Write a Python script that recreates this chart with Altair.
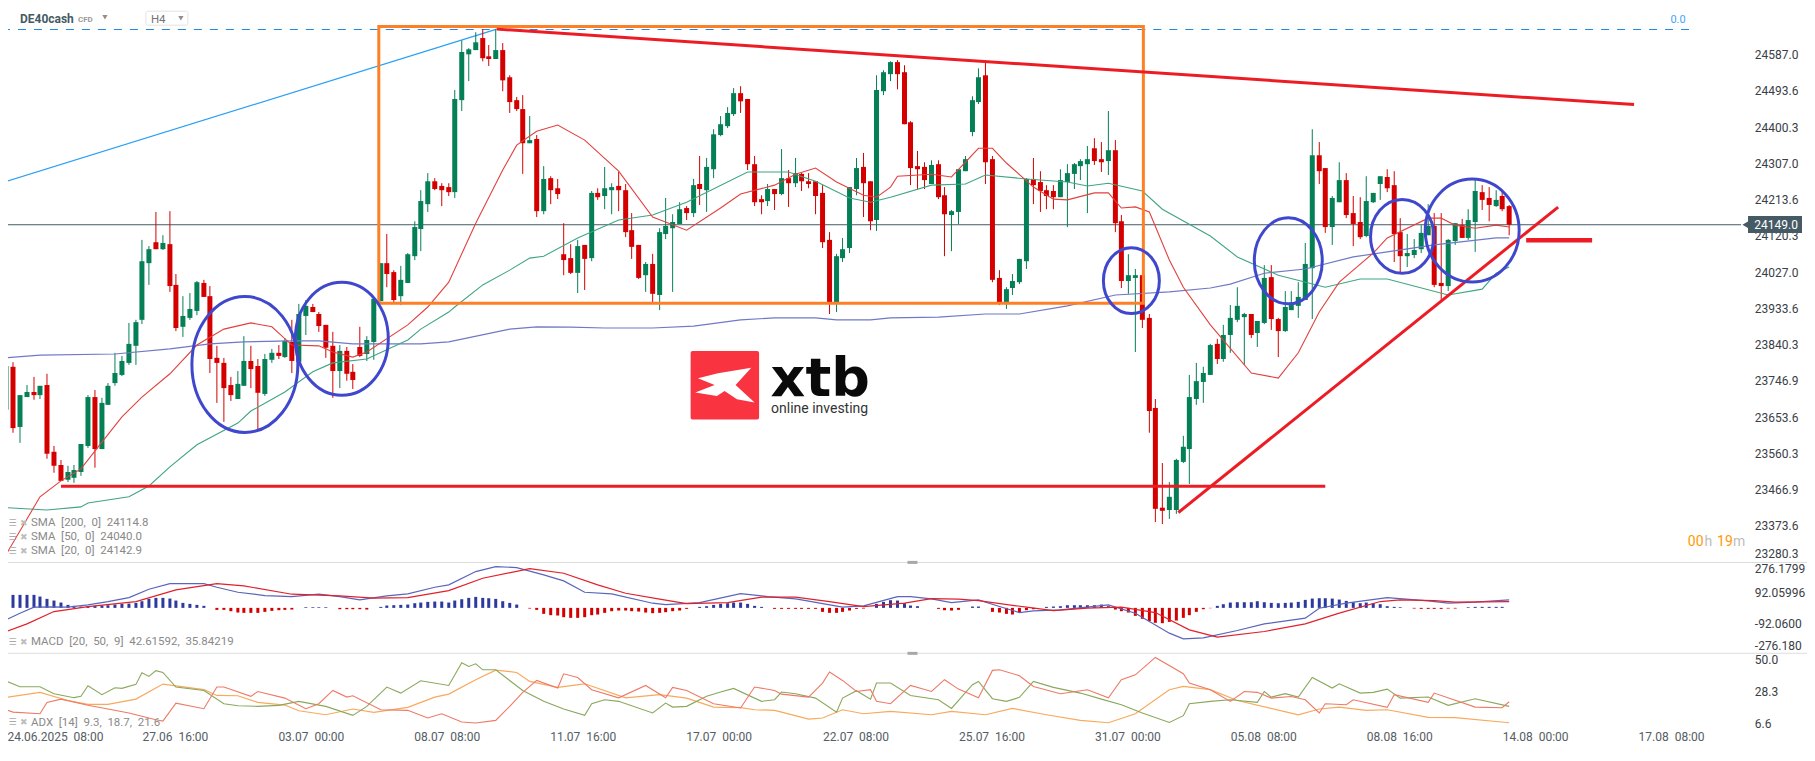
import json
import altair as alt
import pandas as pd

# ---------- candles (H4, one value per bar) ----------
opens = [23672,23783,23628,23705,23718,23710,23736,23564,23530,23492,
 23497,23512,23579,23705,23571,23685,23741,23762,23793,23837,
 23904,24050,24104,24086,24099,23994,23886,23909,23927,23999,
 23965,23806,23793,23736,23700,23734,23798,23785,23713,23801,
 23819,23808,23847,23796,23914,23937,23919,23891,23837,23772,
 23824,23770,23834,23816,23847,23952,24050,24027,23965,23999,
 24068,24138,24202,24261,24249,24246,24233,24470,24588,24599,
 24630,24583,24576,24599,24529,24470,24447,24359,24370,24184,
 24269,24243,24073,24063,24025,24097,24063,24231,24223,24238,
 24249,24238,24135,24097,24019,24048,23968,24125,24140,24151,
 24192,24179,24254,24238,24292,24380,24403,24434,24488,24473,
 24305,24215,24210,24241,24228,24269,24256,24280,24261,24261,
 24231,24110,23947,24063,24089,24241,24298,24261,24161,24493,
 24537,24568,24542,24413,24300,24298,24254,24305,24225,24174,
 24182,24287,24388,24465,24534,24318,24012,23947,23986,24001,
 24055,24267,24259,24238,24236,24220,24259,24280,24300,24305,
 24346,24318,24313,24341,24158,24004,24012,24019,23909,23677,
 23420,23414,23414,23538,23571,23700,23744,23762,23842,23803,
 23865,23904,23911,23919,23870,23896,24014,23906,23875,23929,
 23940,23955,24037,24328,24295,24143,24207,24264,24179,24156,
 24120,24207,24254,24272,24251,24130,24068,24071,24086,24122,
 24146,23999,23991,24107,24148,24115,24156,24233,24218,24197,
 24223,24197]
closes = [23785,23625,23710,23718,23710,23734,23559,23528,23489,23512,
 23517,23584,23705,23571,23690,23734,23767,23798,23842,23898,
 24055,24086,24086,24102,23991,23883,23914,23932,24001,23963,
 23803,23793,23728,23710,23739,23798,23777,23716,23803,23819,
 23811,23850,23798,23919,23940,23924,23888,23832,23772,23824,
 23765,23749,23811,23852,23958,24050,24022,23955,24007,24073,
 24143,24210,24261,24241,24238,24233,24473,24594,24601,24619,
 24578,24576,24599,24521,24465,24447,24359,24367,24184,24267,
 24238,24228,24058,24025,24094,24061,24231,24220,24243,24246,
 24238,24130,24092,24012,24048,23971,24130,24146,24156,24189,
 24179,24251,24241,24298,24382,24408,24437,24488,24467,24305,
 24207,24207,24241,24228,24269,24256,24282,24261,24254,24223,
 24104,23947,24068,24086,24246,24295,24256,24158,24496,24542,
 24568,24537,24408,24295,24292,24264,24303,24220,24176,24184,
 24292,24318,24470,24529,24310,24007,23947,23983,24004,24061,
 24267,24251,24236,24223,24220,24264,24282,24305,24313,24318,
 24313,24310,24341,24153,24004,24019,24019,23904,23669,23417,
 23412,23448,23543,23577,23705,23746,23767,23839,23803,23865,
 23909,23940,23919,23865,23901,24012,23906,23875,23937,23942,
 23963,24048,24328,24287,24143,24218,24264,24174,24151,24117,
 24210,24231,24274,24243,24125,24068,24076,24084,24128,24146,
 23994,23991,24110,24153,24115,24161,24236,24213,24200,24213,
 24189,24149]
highs = [23826,23795,23710,23736,23757,23734,23765,23579,23543,23528,
 23530,23584,23710,23723,23703,23741,23819,23811,23896,23904,
 24110,24094,24182,24122,24184,24022,23965,23973,24004,24007,
 23991,23837,23806,23757,23772,23862,23837,23803,23816,23829,
 23839,23857,23904,23945,23955,23945,23924,23891,23873,23839,
 23834,23790,23886,23862,23958,24050,24125,24032,24043,24076,
 24158,24238,24282,24269,24256,24256,24496,24624,24604,24645,
 24653,24612,24653,24617,24534,24478,24483,24429,24380,24300,
 24274,24267,24153,24099,24110,24097,24236,24243,24298,24256,
 24285,24254,24179,24097,24053,24074,24140,24218,24176,24207,
 24197,24267,24326,24321,24395,24429,24452,24501,24506,24473,
 24326,24225,24254,24241,24344,24290,24321,24282,24282,24261,
 24251,24130,24074,24115,24246,24321,24334,24261,24534,24547,
 24570,24573,24560,24416,24339,24310,24315,24315,24246,24187,
 24292,24326,24480,24552,24568,24326,24032,23988,24022,24061,
 24269,24321,24287,24251,24251,24292,24305,24308,24318,24352,
 24372,24362,24442,24367,24174,24073,24035,24019,23919,23700,
 23535,23486,23546,23605,23762,23793,23783,23842,23855,23891,
 23942,23988,23922,23919,23901,24045,24045,23909,23978,23978,
 24001,24102,24395,24362,24295,24223,24310,24282,24223,24220,
 24274,24231,24274,24292,24287,24166,24125,24112,24148,24202,
 24179,24179,24112,24153,24164,24189,24264,24251,24246,24238,
 24238,24200]
lows = [23607,23613,23587,23705,23698,23700,23546,23510,23489,23486,
 23484,23502,23574,23523,23571,23685,23734,23759,23788,23788,
 23893,23994,24086,24084,23976,23875,23860,23904,23916,23963,
 23767,23690,23641,23695,23700,23734,23728,23620,23708,23793,
 23803,23806,23767,23796,23865,23924,23873,23806,23703,23728,
 23747,23726,23808,23798,23801,23952,23988,23950,23942,23999,
 24058,24081,24182,24238,24197,24223,24218,24442,24519,24599,
 24570,24558,24576,24493,24437,24442,24280,24359,24169,24176,
 24202,24215,24019,24022,23973,23981,24055,24213,24189,24176,
 24184,24117,24061,24009,23976,23950,23929,24112,23976,24151,
 24161,24169,24200,24182,24269,24377,24398,24429,24437,24290,
 24197,24176,24197,24187,24225,24195,24246,24236,24243,24176,
 24089,23919,23924,24053,24076,24225,24169,24135,24133,24483,
 24519,24498,24408,24251,24241,24241,24254,24215,24068,24081,
 24151,24287,24377,24460,24254,24001,23942,23932,23968,23996,
 24035,24202,24182,24189,24189,24220,24143,24241,24264,24179,
 24303,24285,24277,24130,23986,23971,23821,23883,23613,23383,
 23378,23391,23404,23535,23481,23685,23690,23762,23790,23796,
 23819,23898,23788,23857,23834,23893,23878,23808,23873,23929,
 23909,23955,23906,24254,24128,24097,24207,24166,24094,24112,
 24117,24205,24213,24233,24053,24027,24040,24063,24076,24122,
 23988,23955,23978,24097,24115,24110,24079,24187,24158,24195,
 24184,24122]

# ---------- moving averages: read at selected bars ----------
sma200_i = [0,5,16,24,30,35,42,46,51,56,61,65,74,78,83,88,95,101,108,113,119,122,127,130,137,144,149,156,163,171,177,180,185,191,198,203,210,219,221]
sma200_v = [23806,23813,23816,23829,23842,23847,23850,23850,23842,23842,23842,23847,23880,23886,23885,23883,23883,23888,23904,23909,23909,23904,23904,23909,23911,23919,23919,23940,23968,23976,23986,23996,24024,24035,24066,24079,24097,24115,24115]
sma50_i = [0,6,11,12,18,21,24,28,34,36,41,45,48,53,59,61,65,66,70,74,77,79,84,90,95,100,109,115,119,124,127,130,136,141,144,150,156,159,162,167,170,177,181,187,194,199,203,212,217,219,221]
sma50_v = [23420,23414,23422,23432,23448,23476,23525,23582,23638,23669,23718,23770,23793,23803,23852,23880,23924,23937,23994,24032,24063,24068,24115,24161,24174,24207,24285,24285,24261,24218,24207,24220,24251,24254,24277,24267,24259,24249,24256,24236,24189,24120,24066,24019,23988,24009,24009,23968,23983,24024,24040]
sma20_i = [0,5,8,11,14,17,20,24,28,32,36,39,42,46,48,51,53,59,62,65,69,73,75,78,81,85,90,95,100,105,108,113,116,119,122,126,128,130,131,136,139,143,145,147,151,154,156,160,162,164,166,168,171,173,177,183,187,190,193,196,198,201,203,209,211,213,216,219,221]
sma20_v = [23299,23448,23489,23520,23589,23654,23705,23765,23839,23880,23896,23886,23839,23837,23821,23808,23821,23891,23937,24001,24153,24290,24354,24390,24406,24367,24287,24169,24135,24192,24228,24251,24279,24295,24259,24225,24220,24246,24274,24279,24272,24346,24346,24308,24246,24215,24213,24231,24231,24192,24195,24182,24058,23988,23891,23767,23754,23819,23924,24001,24032,24076,24115,24166,24166,24148,24140,24148,24143]

# ---------- MACD ----------
macd_hist = [78,78,78,78,78,68,54,44,32,18,12,8,10,12,14,16,20,24,26,30,40,54,60,60,56,44,30,24,18,12,0,
 -12,-12,-20,-28,-30,-30,-30,-24,-18,-14,-12,-10,0,4,4,4,4,0,-8,-8,-8,-8,-10,0,6,14,16,18,20,28,32,36,38,38,32,44,52,60,66,60,58,54,40,30,20,0,
 -4,-12,-36,-44,-46,-56,-60,-60,-56,-44,-40,-30,-20,-16,-16,-20,-22,-28,-32,-30,-26,-20,-16,-6,0,6,10,18,24,28,32,32,24,12,6,0,-6,-6,-6,-6,-6,-6,-6,
 -24,-30,-30,-24,-16,-6,-4,0,24,36,46,44,28,14,10,0,0,-6,-14,-16,-12,0,8,8,0,-24,-28,-36,-40,-28,-14,-8,0,6,8,10,16,16,16,16,16,20,10,-10,-20,-28,-48,-66,-80,-90,-92,-84,-76,-60,-44,-24,-8,-2,12,22,32,34,34,34,40,34,30,28,30,32,36,48,56,58,58,56,50,42,34,28,32,28,22,10,6,4,0,-4,-6,-6,-6,-6,-4,-4,0,4,6,6,6,6,6]
macd_i = [0,2,4,7,9,12,15,18,21,24,29,31,34,38,42,46,49,52,56,59,63,65,69,72,75,79,82,85,89,95,97,102,108,112,116,117,123,126,131,133,136,139,143,146,149,151,155,162,166,171,173,176,181,185,191,193,197,203,209,212,216,221]
macd_v = [-72,-32,4,6,4,18,38,62,112,146,146,124,94,74,68,82,68,48,72,84,124,138,218,248,242,198,162,94,84,28,20,32,86,68,54,48,4,12,68,68,54,32,48,8,-28,-18,-12,18,-32,-152,-186,-180,-136,-96,-62,-2,28,62,42,28,34,48]
signal_i = [0,3,7,12,19,25,31,35,42,49,54,59,65,70,77,82,87,91,96,100,106,111,116,121,126,132,136,140,143,150,154,159,164,169,174,178,185,191,196,202,205,210,213,221]
signal_v = [-142,-96,-22,8,38,108,146,132,82,72,58,62,104,178,236,208,138,88,52,26,32,64,64,38,8,28,56,52,44,4,-16,-2,4,-28,-132,-176,-142,-96,-32,38,48,44,34,38]

# ---------- ADX ----------
adx_i = [0,5,9,12,15,19,23,29,31,34,37,41,43,47,51,54,59,63,65,69,72,75,77,81,85,91,96,100,104,108,110,113,114,118,120,123,126,130,136,139,144,148,153,158,162,166,171,173,177,181,190,193,196,200,203,209,213,221]
adx_v = [24.3,27.7,22.2,19.5,19.5,23.1,33.3,29.5,25.6,25.4,20.9,19.1,15.2,12.5,16.4,14.1,17.5,24.5,26.5,36.3,42.8,41.2,35.1,31.1,33.5,24.0,26.1,23.8,17.7,17.3,15.9,15.5,14.3,9.6,10.3,15.9,13.2,14.8,12.5,14.8,12.5,16.8,12.5,8.7,7.1,13.2,29.5,31.7,29.5,22.2,12.5,16.4,17.7,15.5,15.9,10.7,10.5,7.1]
plus_i = [0,2,5,7,10,11,12,14,16,17,19,20,21,22,23,25,29,32,34,37,40,43,47,51,53,56,58,61,65,67,68,69,70,72,76,79,82,85,86,88,90,95,97,98,100,103,105,107,111,113,114,116,119,122,123,125,127,128,130,133,137,139,142,143,145,147,149,151,154,158,161,164,167,171,173,174,177,180,184,185,186,188,190,192,195,196,199,201,203,205,209,212,216,221]
plus_v = [35.4,31.5,31.5,26.8,24.1,25.0,32.2,26.1,30.8,30.4,33.1,41.0,38.5,42.4,41.2,31.3,29.0,20.0,18.6,18.2,18.9,21.6,18.2,12.1,18.2,31.3,27.2,35.6,32.4,47.8,45.3,47.1,43.0,43.0,29.0,21.6,16.4,12.1,20.0,22.7,21.6,13.7,20.4,17.7,18.2,25.0,27.9,30.4,21.6,22.7,27.9,26.8,23.8,14.3,23.8,28.8,23.1,34.0,34.0,25.6,22.7,16.8,32.9,35.1,23.4,21.6,24.3,35.1,31.1,27.2,23.1,19.3,13.7,7.3,11.9,20.0,21.6,22.7,20.9,28.3,24.5,26.8,24.5,37.8,30.6,33.5,27.2,27.7,29.9,23.8,24.5,18.9,23.4,18.2]
minus_i = [0,1,5,6,8,12,15,18,22,23,25,29,31,32,36,37,41,44,46,48,50,51,55,59,62,64,67,69,72,74,76,78,81,82,84,86,90,94,97,98,100,104,108,110,113,114,118,120,121,123,125,127,128,130,133,136,138,140,143,145,146,149,151,155,159,162,164,166,169,173,174,177,180,182,184,186,189,191,193,194,197,198,203,204,209,210,216,220,221]
minus_v = [15.9,14.3,13.2,20.9,23.1,18.9,16.4,13.7,9.1,8.2,20.4,16.6,31.3,31.3,25.0,28.3,23.8,16.6,20.0,29.0,24.5,25.4,15.9,15.5,10.3,13.2,7.6,6.9,8.7,18.2,27.7,35.8,30.6,40.3,37.8,29.5,24.0,32.4,24.0,31.1,29.0,20.0,17.1,31.3,29.0,26.5,24.5,34.0,41.5,35.8,28.3,29.5,21.6,20.0,32.4,28.3,36.3,29.9,24.0,42.6,43.0,39.0,31.7,26.8,29.5,24.0,36.3,39.6,51.4,40.3,34.0,29.5,21.6,28.3,27.7,23.8,24.9,22.7,13.7,20.0,19.3,22.7,17.5,26.1,20.9,27.2,17.7,17.3,21.3]

# ---------- drawn objects, in bars and prices ----------
box_i = [54.84, 167.2]
box_p = [23946.6, 24659.8]
fib_i = [-0.63, 72.06]
fib_p = [24257, 24653]
fib_top_p = 24652
fib_end_i = 247.4
res_i = [72.06, 239.3]
res_p = [24653, 24458.5]
sup_i = [8.04, 193.9]
sup_p = [23475, 23475]
trend_i = [172.4, 228.2]
trend_p = [23407.5, 24194.5]
stub_i = [223.5, 233.2]
stub_p = [24109, 24109]
circle_i = [35.08, 49.4, 165.4, 188.5, 205.3, 215.5]
circle_p = [23789, 23855, 24005, 24056, 24119, 24134]
circle_rx = [53, 46.5, 28, 34, 31.7, 47]
circle_ry = [68, 56.5, 33, 43, 37, 51.5]
last_price = 24149.0

# ---------- axis labels ----------
price_ticks = [24587.0,24493.6,24400.3,24307.0,24213.6,24120.3,24027.0,23933.6,23840.3,23746.9,23653.6,23560.3,23466.9,23373.6,23280.3]
macd_ticks = {276.18: "276.1799", 92.06: "92.05996", -92.06: "-92.0600", -276.18: "-276.180"}
adx_ticks = [50.0, 28.3, 6.6]
NB = "\u00a0\u00a0"
time_ticks = {7.2: f"24.06.2025{NB}08:00", 24.8: f"27.06{NB}16:00", 44.8: f"03.07{NB}00:00", 64.8: f"08.07{NB}08:00",
              84.8: f"11.07{NB}16:00", 104.8: f"17.07{NB}00:00", 124.8: f"22.07{NB}08:00", 144.8: f"25.07{NB}16:00",
              164.8: f"31.07{NB}00:00", 184.8: f"05.08{NB}08:00", 204.8: f"08.08{NB}16:00", 224.8: f"14.08{NB}00:00",
              244.8: f"17.08{NB}08:00"}

W, H = 1800, 737
FONT = "Roboto"
XS = alt.Scale(domain=[0.25, 264.76], range=[0, W], round=True, nice=False, zero=False, padding=0)
PS = alt.Scale(domain=[23280.3, 24706.9], range=[554, 0], nice=False, zero=False)
MS = alt.Scale(domain=[-276.18, 276.18], range=[646, 554], nice=False, zero=False)
AS = alt.Scale(domain=[2.3, 54.5], range=[722, 645], nice=False, zero=False)


def lookup_expr(mapping):
    return json.dumps({str(k): v for k, v in mapping.items()}, ensure_ascii=False) + "[datum.value]"


def right_axis(values, expr=None, fmt=None):
    kw = dict(orient="right", values=values, domain=False, ticks=False, tickSize=0, grid=False, title=None,
              labelFont=FONT, labelFontSize=12, labelColor="#3a4046", labelPadding=0, labelAlign="left",
              offset=-52.7, labelFlush=True, labelFlushOffset=-1.5, labelOverlap=False)
    if expr:
        kw["labelExpr"] = expr
    if fmt:
        kw["format"] = fmt
    return alt.Axis(**kw)


x_axis = alt.Axis(orient="bottom", values=list(time_ticks), labelExpr=lookup_expr(time_ticks), domain=False, ticks=False,
                  tickSize=0, grid=False, title=None, labelFont=FONT, labelFontSize=12, labelColor="#555d63",
                  labelPadding=0, labelBaseline="middle", offset=-8.3, labelOverlap=False, labelFlush=False, labelAngle=0)
P_AXIS = right_axis(price_ticks, fmt=".1f")
M_AXIS = right_axis(list(macd_ticks), expr=lookup_expr(macd_ticks))
A_AXIS = right_axis(adx_ticks, fmt=".1f")


def xq(field="i"):
    return alt.X(f"{field}:Q", scale=XS, axis=x_axis)


def yq(scale, field="v"):
    ax = P_AXIS if scale is PS else M_AXIS if scale is MS else A_AXIS
    return alt.Y(f"{field}:Q", scale=scale, axis=ax)


def line(i, v, scale, color, width=1.0, opacity=1.0, dash=None):
    kw = dict(color=color, strokeWidth=width, opacity=opacity, interpolate="linear", clip=False)
    if dash:
        kw["strokeDash"] = dash
    return alt.Chart(pd.DataFrame({"i": i, "v": v})).mark_line(**kw).encode(x=xq(), y=yq(scale))


ONE = pd.DataFrame({"a": [0]})


def label(text, x, y, size=12, color="#8a8a8a", align="left", weight="normal", font=FONT):
    return alt.Chart(ONE).mark_text(text=text, align=align, baseline="middle", fontSize=size, color=color,
                                    fontWeight=weight, font=font).encode(x=alt.value(x - 8), y=alt.value(y - 8))


def tri(x, y, size, color="#8f8f8f", shape="triangle-down"):
    return alt.Chart(ONE).mark_point(shape=shape, filled=True, size=size, color=color, opacity=1).encode(
        x=alt.value(x - 8), y=alt.value(y - 8))


def box(x0, x1, y0, y1, **kw):
    return alt.Chart(ONE).mark_rect(**kw).encode(x=alt.value(x0 - 8), x2=alt.value(x1 - 8), y=alt.value(y0 - 8), y2=alt.value(y1 - 8))


# ---------- price panel ----------
candles = pd.DataFrame({"i": range(len(opens)), "o": opens, "h": highs, "l": lows, "c": closes})
up = candles[candles["c"] >= candles["o"]]
down = candles[candles["c"] < candles["o"]]
GREEN_C, RED_C = "#047f56", "#d40000"


def candle_layers(df, color):
    return [
        alt.Chart(df).mark_rule(strokeWidth=1, color=color).encode(x=xq(), y=yq(PS, "l"), y2="h:Q"),
        alt.Chart(df).mark_bar(size=5, color=color).encode(x=xq(), y=yq(PS, "o"), y2="c:Q"),
    ]


orange_box = alt.Chart(pd.DataFrame({"i": [box_i[0]], "i2": [box_i[1]], "v": [box_p[0]], "v2": [box_p[1]]})).mark_rect(
    fillOpacity=0, stroke="#ff7f27", strokeWidth=3).encode(x=xq(), x2="i2:Q", y=yq(PS), y2="v2:Q")


def ellipse_path(k):
    c = 0.5523
    return (f"M-1,0 C-1,{-k*c:.4f} {-c},{-k:.4f} 0,{-k:.4f} C{c},{-k:.4f} 1,{-k*c:.4f} 1,0 "
            f"C1,{k*c:.4f} {c},{k:.4f} 0,{k:.4f} C{-c},{k:.4f} -1,{k*c:.4f} -1,0 Z")


circles = [
    alt.Chart(pd.DataFrame({"i": [ci], "v": [cp]})).mark_point(
        shape=ellipse_path(ry / rx), size=(2 * rx) ** 2, filled=False, stroke="#3f48cc", strokeWidth=3, opacity=1
    ).encode(x=xq(), y=yq(PS))
    for ci, cp, rx, ry in zip(circle_i, circle_p, circle_rx, circle_ry)
]

RED = "#ed1c24"
price_panel = alt.layer(
    line([-0.63, 255.0], [last_price, last_price], PS, "#455a64", 1),
    line(fib_i, fib_p, PS, "#2aa0f5", 1.2),
    line([-0.63, fib_end_i], [fib_top_p, fib_top_p], PS, "#1e88e5", 1, dash=[8, 8]),
    *candle_layers(up, GREEN_C),
    *candle_layers(down, RED_C),
    line(sma200_i, sma200_v, PS, "#6f79c6", 1.2),
    line(sma50_i, sma50_v, PS, "#3fa582", 1.1),
    line(sma20_i, sma20_v, PS, "#e2403e", 1.1),
    orange_box,
    line(res_i, res_p, PS, RED, 3),
    line(sup_i, sup_p, PS, RED, 3),
    line(trend_i, trend_p, PS, RED, 3),
    line(stub_i, stub_p, PS, RED, 4.5),
    *circles,
)

# ---------- MACD panel ----------
hist = pd.DataFrame({"i": range(len(macd_hist)), "v": macd_hist, "zero": 0})
hist_pos = hist[hist["v"] > 0]
hist_neg = hist[hist["v"] < 0]
macd_panel = alt.layer(
    alt.Chart(hist_pos).mark_bar(size=3, color="#2c3a9e").encode(x=xq(), y=yq(MS), y2="zero:Q"),
    alt.Chart(hist_neg).mark_bar(size=3, color="#d40000").encode(x=xq(), y=yq(MS), y2="zero:Q"),
    line(macd_i, macd_v, MS, "#5a65bb", 1.2),
    line(signal_i, signal_v, MS, "#e0212b", 1.2),
)

# ---------- ADX panel ----------
adx_panel = alt.layer(
    line(adx_i, adx_v, AS, "#f8a95c", 1.2),
    line(plus_i, plus_v, AS, "#8aa85c", 1.1),
    line(minus_i, minus_v, AS, "#ee7a66", 1.1),
)


def icons(y):
    return [label("\u2630", 8.5, y, 9, "#aaaaaa", font="DejaVu Sans"),
            label("\u2716", 20, y, 9, "#bdbdbd", font="DejaVu Sans")]


# ---------- chrome and texts ----------
chrome = alt.layer(
    box(2, 1815, 562, 563, color="#dddddd"),
    box(2, 1815, 653, 654, color="#dddddd"),
    box(908, 918, 561, 564, color="#a8a8a8"),
    box(908, 918, 652, 655, color="#a8a8a8"),
    # last price tag
    box(1749, 1803, 216, 233, color="#455a64"),
    tri(1747, 224.7, 70, "#455a64", "triangle-left"),
    label("24149.0", 1755.3, 225, 12, "#ffffff"),
    # header
    label("DE40cash", 20, 19, 12, "#455a64", weight="bold"),
    label("CFD", 78, 19.5, 8, "#9a9a9a", weight="bold"),
    tri(105, 17, 28),
    box(146, 188, 11, 25, fillOpacity=0, stroke="#e3e3e3", strokeWidth=1, cornerRadius=2),
    label("H4", 151, 19.5, 11.5, "#757575"),
    tri(181, 18, 28),
    label("0.0", 1679, 20, 11, "#42a5f5", align="center"),
    # indicator legends
    *icons(523),
    label(f"SMA{NB}[200,{NB}0]{NB}24114.8", 31, 523.3, 11.5),
    *icons(537),
    label(f"SMA{NB}[50,{NB}0]{NB}24040.0", 31, 537.3, 11.5),
    *icons(551),
    label(f"SMA{NB}[20,{NB}0]{NB}24142.9", 31, 551, 11.5),
    *icons(642),
    label(f"MACD{NB}[20,{NB}50,{NB}9]{NB}42.61592,{NB}35.84219", 31, 642.3, 11.5),
    *icons(722),
    label(f"ADX{NB}[14]{NB}9.3,{NB}18.7,{NB}21.6", 31, 722.7, 11.5),
    # countdown
    label("00", 1688.7, 542, 14, "#ff9800"),
    label("h", 1705.5, 542, 14, "#bdbdbd"),
    label("19", 1718, 542, 14, "#ff9800"),
    label("m", 1734, 542, 14, "#bdbdbd"),
    # logo
    box(691, 759.5, 351, 419.5, color="#f9333f", cornerRadius=2),
    alt.Chart(ONE).mark_point(
        shape="M-.8,-.21 L-.2,-.36 L.8,-.53 L.33,-.01 L.9,.52 L.37,.42 L0,.17 L-.23,.32 L-.88,.22 L-.3,-.01 Z",
        size=4444, filled=True, color="#ffffff", opacity=1).encode(x=alt.value(725 - 8), y=alt.value(385.3 - 8)),
    alt.Chart(ONE).mark_text(text="xtb", align="left", baseline="alphabetic", fontSize=54, fontWeight="bold",
                             font="DejaVu Sans", color="#0a0a0a").encode(x=alt.value(771 - 8), y=alt.value(396 - 8)),
    label("online investing", 771.5, 409, 14, "#333333"),
)

chart = alt.layer(price_panel, macd_panel, adx_panel, chrome).resolve_scale(y="independent").properties(
    width=W, height=H, padding=0, autosize=alt.AutoSizeParams(type="none"), background="#ffffff"
).configure_view(stroke=None)

chart.save("out.html", embed_options={"renderer": "svg", "actions": False})
